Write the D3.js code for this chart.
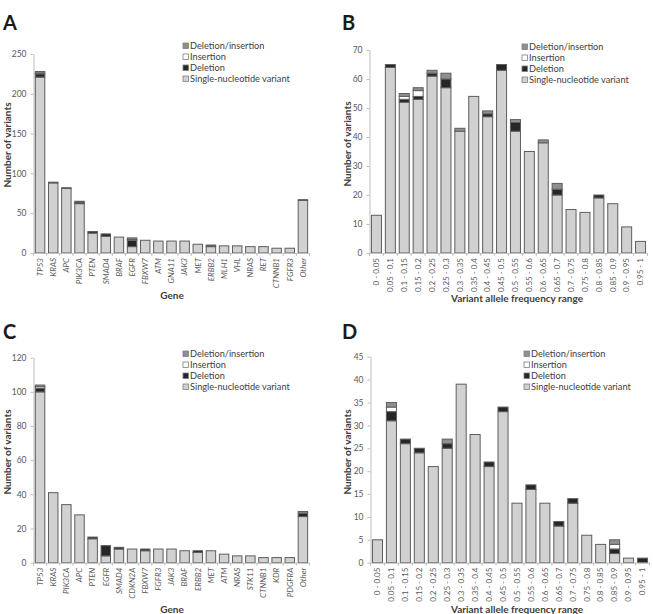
<!DOCTYPE html>
<html>
<head>
<meta charset="utf-8">
<script src="https://cdn.jsdelivr.net/npm/d3@7"></script>
<style>
body { margin: 0; background: #fff; }
text { font-family: Lato, "Open Sans", sans-serif; }
</style>
</head>
<body>
<div id="chart"></div>
<script>
// ---- data ----
var genesA = ["TP53","KRAS","APC","PIK3CA","PTEN","SMAD4","BRAF","EGFR","FBXW7","ATM","GNA11","JAK3","MET","ERBB2","MLH1","VHL","NRAS","RET","CTNNB1","FGFR3","Other"];
var snvA    = [221, 88, 81, 62, 25, 21, 20, 8, 16, 15, 15, 15, 11, 8, 9, 9, 8, 8, 6, 6, 66];
var delA    = [4, 1, 1, 2, 2, 3, 0, 8, 0, 0, 0, 0, 0, 1, 0, 0, 0, 0, 0, 0, 1];
var insA    = [1, 0, 0, 0, 0, 0, 0, 1, 0, 0, 0, 0, 0, 0, 0, 0, 0, 0, 0, 0, 0];
var delinsA = [2, 0, 0, 1, 0, 0, 0, 2, 0, 0, 0, 0, 0, 1, 0, 0, 0, 0, 0, 0, 0];

var vafBins = ["0 - 0.05","0.05 - 0.1","0.1 - 0.15","0.15 - 0.2","0.2 - 0.25","0.25 - 0.3","0.3 - 0.35","0.35 - 0.4","0.4 - 0.45","0.45 - 0.5",
               "0.5 - 0.55","0.55 - 0.6","0.6 - 0.65","0.65 - 0.7","0.7 - 0.75","0.75 - 0.8","0.8 - 0.85","0.85 - 0.9","0.9 - 0.95","0.95 - 1"];
var snvB    = [13, 64, 52, 53, 61, 57, 42, 54, 47, 63, 42, 35, 38, 20, 15, 14, 19, 17, 9, 4];
var delB    = [0, 1, 1, 1, 1, 3, 0, 0, 1, 2, 3, 0, 0, 2, 0, 0, 1, 0, 0, 0];
var insB    = [0, 0, 1, 2, 0, 0, 0, 0, 0, 0, 0, 0, 0, 0, 0, 0, 0, 0, 0, 0];
var delinsB = [0, 0, 1, 1, 1, 2, 1, 0, 1, 0, 1, 0, 1, 2, 0, 0, 0, 0, 0, 0];

var genesC = ["TP53","KRAS","PIK3CA","APC","PTEN","EGFR","SMAD4","CDKN2A","FBXW7","FGFR3","JAK3","BRAF","ERBB2","MET","ATM","NRAS","STK11","CTNNB1","KDR","PDGFRA","Other"];
var snvC    = [100, 41, 34, 28, 14, 4, 8, 8, 7, 8, 8, 7, 6, 7, 5, 4, 4, 3, 3, 3, 27];
var delC    = [2, 0, 0, 0, 1, 6, 1, 0, 1, 0, 0, 0, 1, 0, 0, 0, 0, 0, 0, 0, 2];
var insC    = [1, 0, 0, 0, 0, 0, 0, 0, 0, 0, 0, 0, 0, 0, 0, 0, 0, 0, 0, 0, 0];
var delinsC = [1, 0, 0, 0, 0, 0, 0, 0, 0, 0, 0, 0, 0, 0, 0, 0, 0, 0, 0, 0, 1];

var snvD    = [5, 31, 26, 24, 21, 25, 39, 28, 21, 33, 13, 16, 13, 8, 13, 6, 4, 2, 1, 0];
var delD    = [0, 2, 1, 1, 0, 1, 0, 0, 1, 1, 0, 1, 0, 1, 1, 0, 0, 1, 0, 1];
var insD    = [0, 1, 0, 0, 0, 0, 0, 0, 0, 0, 0, 0, 0, 0, 0, 0, 0, 1, 0, 0];
var delinsD = [0, 1, 0, 0, 0, 1, 0, 0, 0, 0, 0, 0, 0, 0, 0, 0, 0, 1, 0, 0];

var keys = ["snv", "del", "ins", "delins"];
var colors = {snv: "#d1d1d1", del: "#262626", ins: "#ffffff", delins: "#8f8f8f"};
var legendItems = [["delins", "Deletion/insertion"], ["ins", "Insertion"], ["del", "Deletion"], ["snv", "Single-nucleotide variant"]];

var svg = d3.select("#chart")
  .append("svg")
    .attr("width", 653)
    .attr("height", 614);

function drawPanel(p) {
  var pad = 0.28;
  var x = d3.scaleBand()
      .domain(p.cats)
      .range([p.left, p.right])
      .paddingInner(pad)
      .paddingOuter(pad / 2);
  var y = d3.scaleLinear()
      .domain([0, p.max])
      .range([p.bottom, p.top]);

  var rows = p.cats.map(function(c, i) {
    return {cat: c, snv: p.snv[i], del: p.del[i], ins: p.ins[i], delins: p.delins[i]};
  });
  var stacked = d3.stack().keys(keys)(rows);

  var g = svg.append("g");

  // panel letter
  g.append("text")
      .attr("x", p.letter[1])
      .attr("y", p.letter[2])
      .attr("font-family", "'Liberation Sans', Arial, sans-serif")
      .attr("font-weight", "bold")
      .attr("font-size", 20)
      .attr("fill", "#1a1a1a")
      .text(p.letter[0]);

  // y axis
  var yAxis = g.append("g")
      .attr("transform", "translate(" + p.left + ",0)")
      .call(d3.axisLeft(y).tickValues(d3.range(0, p.max + 1, p.step)).tickSize(3).tickSizeOuter(0).tickPadding(4));
  yAxis.select(".domain").attr("stroke", "#bfbfbf");
  yAxis.selectAll(".tick line").attr("stroke", "#bfbfbf");
  yAxis.selectAll(".tick text")
      .attr("fill", "#595959")
      .attr("font-size", 8.5)
      .attr("font-family", null);

  // stacked bars
  g.selectAll(".layer")
      .data(stacked)
      .enter().append("g")
      .attr("fill", function(d) { return colors[d.key]; })
      .selectAll("rect")
      .data(function(d) { return d.filter(function(s) { return s[1] > s[0]; }); })
      .enter().append("rect")
      .attr("x", function(d) { return x(d.data.cat); })
      .attr("y", function(d) { return y(d[1]); })
      .attr("width", x.bandwidth())
      .attr("height", function(d) { return y(d[0]) - y(d[1]); })
      .attr("stroke", "#5e5e5e")
      .attr("stroke-width", 1);

  // x axis
  var xAxis = g.append("g")
      .attr("transform", "translate(0," + p.bottom + ")")
      .call(d3.axisBottom(x).tickSize(0).tickSizeOuter(0));
  xAxis.select(".domain").attr("stroke", "#bfbfbf");
  xAxis.selectAll(".tick text")
      .attr("transform", "rotate(-90)")
      .attr("x", -5)
      .attr("y", 0)
      .attr("dy", "0.35em")
      .attr("text-anchor", "end")
      .attr("fill", "#595959")
      .attr("font-size", 8)
      .attr("font-family", null)
      .attr("font-style", p.italic ? "italic" : "normal");
  xAxis.selectAll(".bound")
      .data(d3.range(p.cats.length + 1))
      .enter().append("line")
      .attr("class", "bound")
      .attr("x1", function(i) { return p.left + i * x.step(); })
      .attr("x2", function(i) { return p.left + i * x.step(); })
      .attr("y1", 0)
      .attr("y2", 3)
      .attr("stroke", "#bfbfbf");

  // axis titles
  g.append("text")
      .attr("transform", "translate(" + p.yTitle[0] + "," + p.yTitle[1] + ") rotate(-90)")
      .attr("text-anchor", "middle")
      .attr("font-weight", "bold")
      .attr("font-size", 10)
      .attr("fill", "#404040")
      .text("Number of variants");
  g.append("text")
      .attr("x", p.xTitle[1])
      .attr("y", p.xTitle[2])
      .attr("text-anchor", "middle")
      .attr("font-weight", "bold")
      .attr("font-size", 10)
      .attr("fill", "#404040")
      .text(p.xTitle[0]);

  // legend
  var leg = g.selectAll(".leg")
      .data(legendItems)
      .enter().append("g")
      .attr("transform", function(d, i) { return "translate(" + p.legend[0] + "," + (p.legend[1] + i * 11) + ")"; });
  leg.append("rect")
      .attr("x", 0)
      .attr("y", -3)
      .attr("width", 5.5)
      .attr("height", 5.5)
      .attr("fill", function(d) { return colors[d[0]]; })
      .attr("stroke", "#7f7f7f")
      .attr("stroke-width", 0.8);
  leg.append("text")
      .attr("x", 7)
      .attr("y", 0)
      .attr("dy", "0.32em")
      .attr("font-size", 9.2)
      .attr("fill", "#404040")
      .text(function(d) { return d[1]; });
}

drawPanel({cats: genesA, snv: snvA, del: delA, ins: insA, delins: delinsA,
  left: 33.5, right: 309.5, top: 54, bottom: 253, max: 250, step: 50, italic: true,
  letter: ["A", 3, 30], yTitle: [11, 145], xTitle: ["Gene", 172, 299], legend: [183, 46]});

drawPanel({cats: vafBins, snv: snvB, del: delB, ins: insB, delins: delinsB,
  left: 369.5, right: 647.5, top: 50, bottom: 253, max: 70, step: 10, italic: false,
  letter: ["B", 342, 30], yTitle: [351, 144], xTitle: ["Variant allele frequency range", 517, 302], legend: [522, 47]});

drawPanel({cats: genesC, snv: snvC, del: delC, ins: insC, delins: delinsC,
  left: 33.5, right: 309.5, top: 357.7, bottom: 562.7, max: 120, step: 20, italic: true,
  letter: ["C", 3, 339], yTitle: [11, 452], xTitle: ["Gene", 172, 613], legend: [183, 354]});

drawPanel({cats: vafBins, snv: snvD, del: delD, ins: insD, delins: delinsD,
  left: 370.5, right: 649.5, top: 356.7, bottom: 562.7, max: 45, step: 5, italic: false,
  letter: ["D", 342, 339], yTitle: [351, 452], xTitle: ["Variant allele frequency range", 517, 613], legend: [524, 354]});
</script>
</body>
</html>
